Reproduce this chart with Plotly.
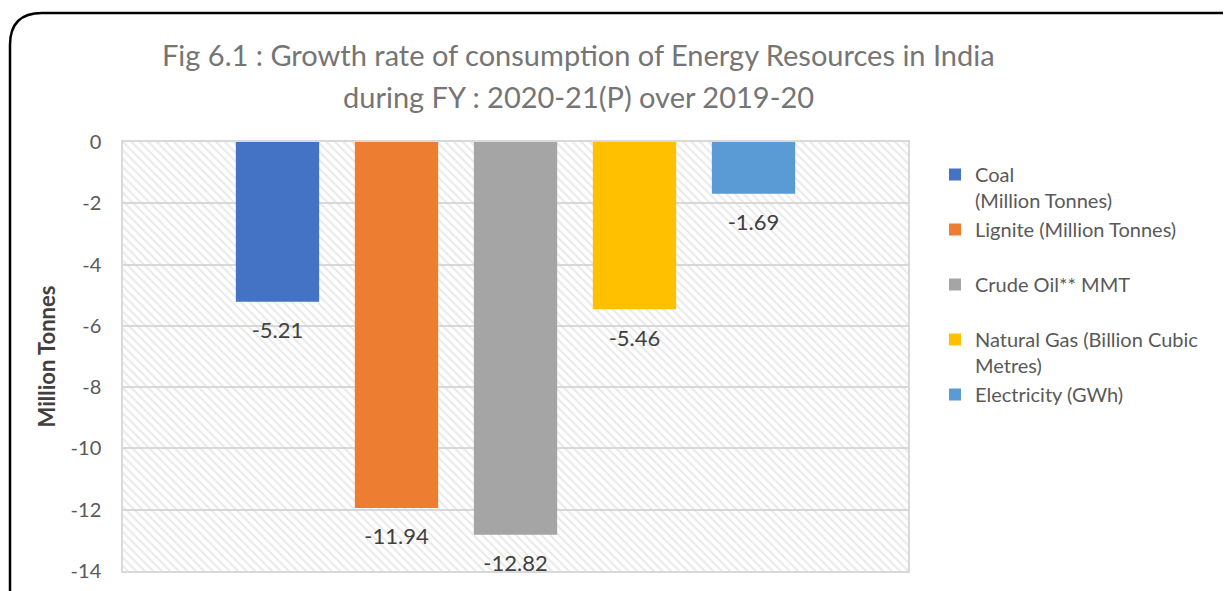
import plotly.graph_objects as go

# chart data
categories = ["FY 2020-21(P)"]
series_names = [
    "Coal<br>(Million Tonnes)",
    "Lignite (Million Tonnes)<br> ",
    "Crude Oil** MMT<br> ",
    "Natural Gas (Billion Cubic<br>Metres)",
    "Electricity (GWh)",
]
series_values = [-5.21, -11.94, -12.82, -5.46, -1.69]
series_colors = ["#4472C4", "#ED7D31", "#A5A5A5", "#FFC000", "#5B9BD5"]
y_ticks = [0, -2, -4, -6, -8, -10, -12, -14]
title_lines = [
    "Fig 6.1 : Growth rate of consumption of Energy Resources in India",
    "during FY : 2020-21(P) over 2019-20",
]

# page has an 8px body margin, so figure coords = screen coords - 8
OFF = 8
W, H = 1231, 591
ML, MT = 123 - OFF, 142 - OFF
MR = W - (908 - OFF)
MB = H - (571 - OFF)
PW, PH = W - ML - MR, H - MT - MB
FONT = "Lato"


def px(x):
    return (x - OFF - ML) / PW


def py(y):
    return (H - MB - (y - OFF)) / PH


fig = go.Figure()

# hatched plot background (drawn under the bars)
fig.add_trace(
    go.Bar(
        x=[0.5],
        y=[min(y_ticks)],
        width=[1],
        marker=dict(
            color="rgba(0,0,0,0)",
            line_width=0,
            pattern=dict(
                shape="\\",
                fgcolor="#d4d4d4",
                fillmode="overlay",
                size=6,
                solidity=0.35,
            ),
        ),
        hoverinfo="skip",
        showlegend=False,
        xaxis="x",
        yaxis="y",
    )
)

for i, (name, val, col) in enumerate(zip(series_names, series_values, series_colors)):
    fig.add_trace(
        go.Bar(
            x=categories,
            y=[val],
            name=name,
            marker_color=col,
            marker_line_width=0,
            offsetgroup=str(i),
            xaxis="x2",
            yaxis="y",
        )
    )

# value labels, grouped the same way as the bars
for i, val in enumerate(series_values):
    fig.add_trace(
        go.Scatter(
            x=categories,
            y=[val],
            mode="markers+text",
            text=[f"{val:.2f}"],
            textposition="bottom center",
            textfont=dict(size=22, color="#404040", family=FONT),
            marker=dict(size=30, opacity=0),
            offsetgroup=str(i),
            showlegend=False,
            hoverinfo="skip",
            cliponaxis=False,
            xaxis="x2",
            yaxis="y",
        )
    )

# rounded frame around the whole chart (screen pixel coords)
x0, y0, x1, y1, r = 10, 13, 1252, 622, 32
frame = (
    f"M {px(x0 + r)},{py(y0)} L {px(x1 - r)},{py(y0)} "
    f"Q {px(x1)},{py(y0)} {px(x1)},{py(y0 + r)} L {px(x1)},{py(y1 - r)} "
    f"Q {px(x1)},{py(y1)} {px(x1 - r)},{py(y1)} L {px(x0 + r)},{py(y1)} "
    f"Q {px(x0)},{py(y1)} {px(x0)},{py(y1 - r)} L {px(x0)},{py(y0 + r)} "
    f"Q {px(x0)},{py(y0)} {px(x0 + r)},{py(y0)} Z"
)
fig.add_shape(
    type="path",
    path=frame,
    xref="paper",
    yref="paper",
    line=dict(color="black", width=2.5),
    layer="above",
)

# title, one line per annotation so the line spacing can match
for text, yc in zip(title_lines, [54, 96]):
    fig.add_annotation(
        text=text,
        xref="paper",
        yref="paper",
        x=px(578),
        y=py(yc),
        xanchor="center",
        yanchor="middle",
        showarrow=False,
        font=dict(size=29, color="#757575", family=FONT),
    )

fig.update_layout(
    width=W,
    height=H,
    margin=dict(l=ML, r=MR, t=MT, b=MB),
    paper_bgcolor="white",
    plot_bgcolor="white",
    font=dict(family=FONT, color="#595959"),
    barmode="group",
    scattermode="group",
    bargap=0.242,
    bargroupgap=0.30,
    xaxis=dict(
        range=[0, 1],
        showticklabels=False,
        showgrid=False,
        zeroline=False,
        showline=True,
        mirror=True,
        linecolor="#d9d9d9",
        linewidth=1.5,
        fixedrange=True,
    ),
    xaxis2=dict(
        overlaying="x",
        range=[-0.5, 0.5],
        showticklabels=False,
        showgrid=False,
        zeroline=False,
        showline=False,
    ),
    yaxis=dict(
        range=[min(y_ticks), max(y_ticks)],
        tickvals=y_ticks,
        ticktext=[str(v) for v in y_ticks],
        tickfont=dict(size=20, color="#595959", family=FONT),
        ticks="",
        ticklabelstandoff=16,
        showgrid=True,
        gridcolor="#d9d9d9",
        gridwidth=1.5,
        zeroline=False,
        showline=True,
        mirror=True,
        linecolor="#d9d9d9",
        linewidth=1.5,
        title=dict(
            text="<b>Million Tonnes</b>",
            font=dict(size=22, color="#404040", family=FONT),
            standoff=9,
        ),
    ),
    legend=dict(
        x=px(935),
        xanchor="left",
        y=py(155),
        yanchor="top",
        valign="top",
        font=dict(size=20, color="#595959", family=FONT),
        bgcolor="rgba(0,0,0,0)",
        itemwidth=30,
    ),
)

fig.write_html("out.html")
